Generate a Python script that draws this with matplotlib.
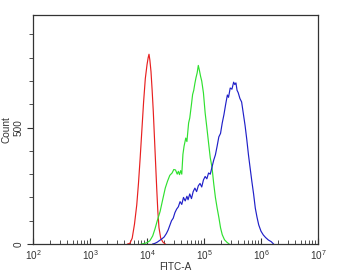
import matplotlib
matplotlib.use("Agg")
import matplotlib.pyplot as plt
from matplotlib.ticker import LogLocator, FixedLocator, MultipleLocator
import numpy as np

plt.rcParams['font.family'] = ['Liberation Sans', 'DejaVu Sans']
plt.rcParams['mathtext.fontset'] = 'custom'
plt.rcParams['mathtext.rm'] = 'Liberation Sans'
plt.rcParams['mathtext.it'] = 'Liberation Sans'

# log10(FITC-A) and counts for each histogram
red_log = [3.66,3.70,3.74,3.78,3.82,3.85,3.88,3.91,3.94,3.97,4.00,4.02,4.035,4.05,4.07,4.09,4.11,4.13,4.15,4.17,4.19,4.21,4.24,4.28,4.32]
red_cnt = [0,3,25,85,168,260,370,490,610,710,770,800,815,790,740,660,570,460,350,240,140,70,25,8,0]

green_log = [3.90,3.95,4.00,4.05,4.10,4.14,4.18,4.23,4.27,4.32,4.36,4.40,4.44,4.47,4.50,4.53,4.55,4.57,4.59,4.61,4.63,4.65,4.68,4.70,4.73,4.75,4.78,4.80,4.82,4.84,4.86,4.88,4.90,4.92,4.94,4.96,4.99,5.02,5.05,5.08,5.11,5.14,5.17,5.20,5.23,5.26,5.29,5.32,5.36,5.40,5.44]
green_cnt = [0,2,6,14,35,65,100,140,185,240,270,295,305,320,318,300,312,298,315,300,385,420,455,440,520,541,600,642,660,690,715,735,767,745,720,700,649,563,500,434,370,330,260,200,155,115,70,40,18,8,0]

blue_log = [4.10,4.14,4.18,4.22,4.26,4.30,4.34,4.37,4.40,4.43,4.46,4.49,4.52,4.55,4.58,4.61,4.64,4.67,4.70,4.72,4.75,4.78,4.81,4.84,4.87,4.90,4.93,4.96,4.99,5.02,5.05,5.08,5.11,5.14,5.17,5.20,5.23,5.26,5.29,5.32,5.35,5.38,5.41,5.43,5.46,5.49,5.52,5.54,5.56,5.58,5.60,5.63,5.66,5.69,5.72,5.75,5.78,5.81,5.84,5.87,5.90,5.93,5.96,6.00,6.04,6.08,6.13,6.18,6.22]
blue_cnt = [0,3,8,15,22,30,45,60,80,100,111,135,150,160,182,170,200,185,205,190,215,195,225,240,225,250,260,245,275,290,280,305,300,330,360,383,420,460,475,520,556,600,640,630,670,665,695,685,692,660,650,625,610,560,510,450,383,325,268,215,154,115,82,55,39,28,17,10,0]

y_ticks = [0, 500]
x_label = "FITC-A"
y_label = "Count"

fig = plt.figure(figsize=(3.37, 2.75), dpi=100)
ax = fig.add_axes([0.098, 0.1127, 0.8456, 0.8323])

for lg, cnt, col in [(red_log, red_cnt, '#e82020'),
                     (green_log, green_cnt, '#30e030'),
                     (blue_log, blue_cnt, '#2020c8')]:
    ax.plot(10 ** np.array(lg), cnt, color=col, lw=0.85)

ax.set_xscale('log')
ax.set_xlim(1e2, 1e7)
ax.set_ylim(0, 983)
ax.xaxis.set_major_locator(LogLocator(base=10, numticks=10))
ax.xaxis.set_minor_locator(LogLocator(base=10, subs=np.arange(2, 10), numticks=20))
ax.yaxis.set_major_locator(FixedLocator(y_ticks))
ax.yaxis.set_minor_locator(MultipleLocator(100))

for s in ax.spines.values():
    s.set_color('#333333')
    s.set_linewidth(0.9)

ax.tick_params(axis='x', which='both', direction='in', colors='#333333', labelsize=7.2, pad=3)
ax.tick_params(axis='x', which='major', length=4, width=0.8)
ax.tick_params(axis='x', which='minor', length=3, width=0.6)
ax.tick_params(axis='y', which='both', direction='out', colors='#333333', labelsize=7.2, pad=3)
ax.tick_params(axis='y', which='major', length=4, width=0.8)
ax.tick_params(axis='y', which='minor', length=3, width=0.6)
for lbl in ax.get_yticklabels():
    lbl.set_rotation(90)
    lbl.set_va('center')

ax.set_xlabel(x_label, fontsize=7.2, color='#333333', labelpad=0)
ax.set_ylabel(y_label, fontsize=7.2, color='#333333', labelpad=1)

fig.savefig('out.png', dpi=100)
